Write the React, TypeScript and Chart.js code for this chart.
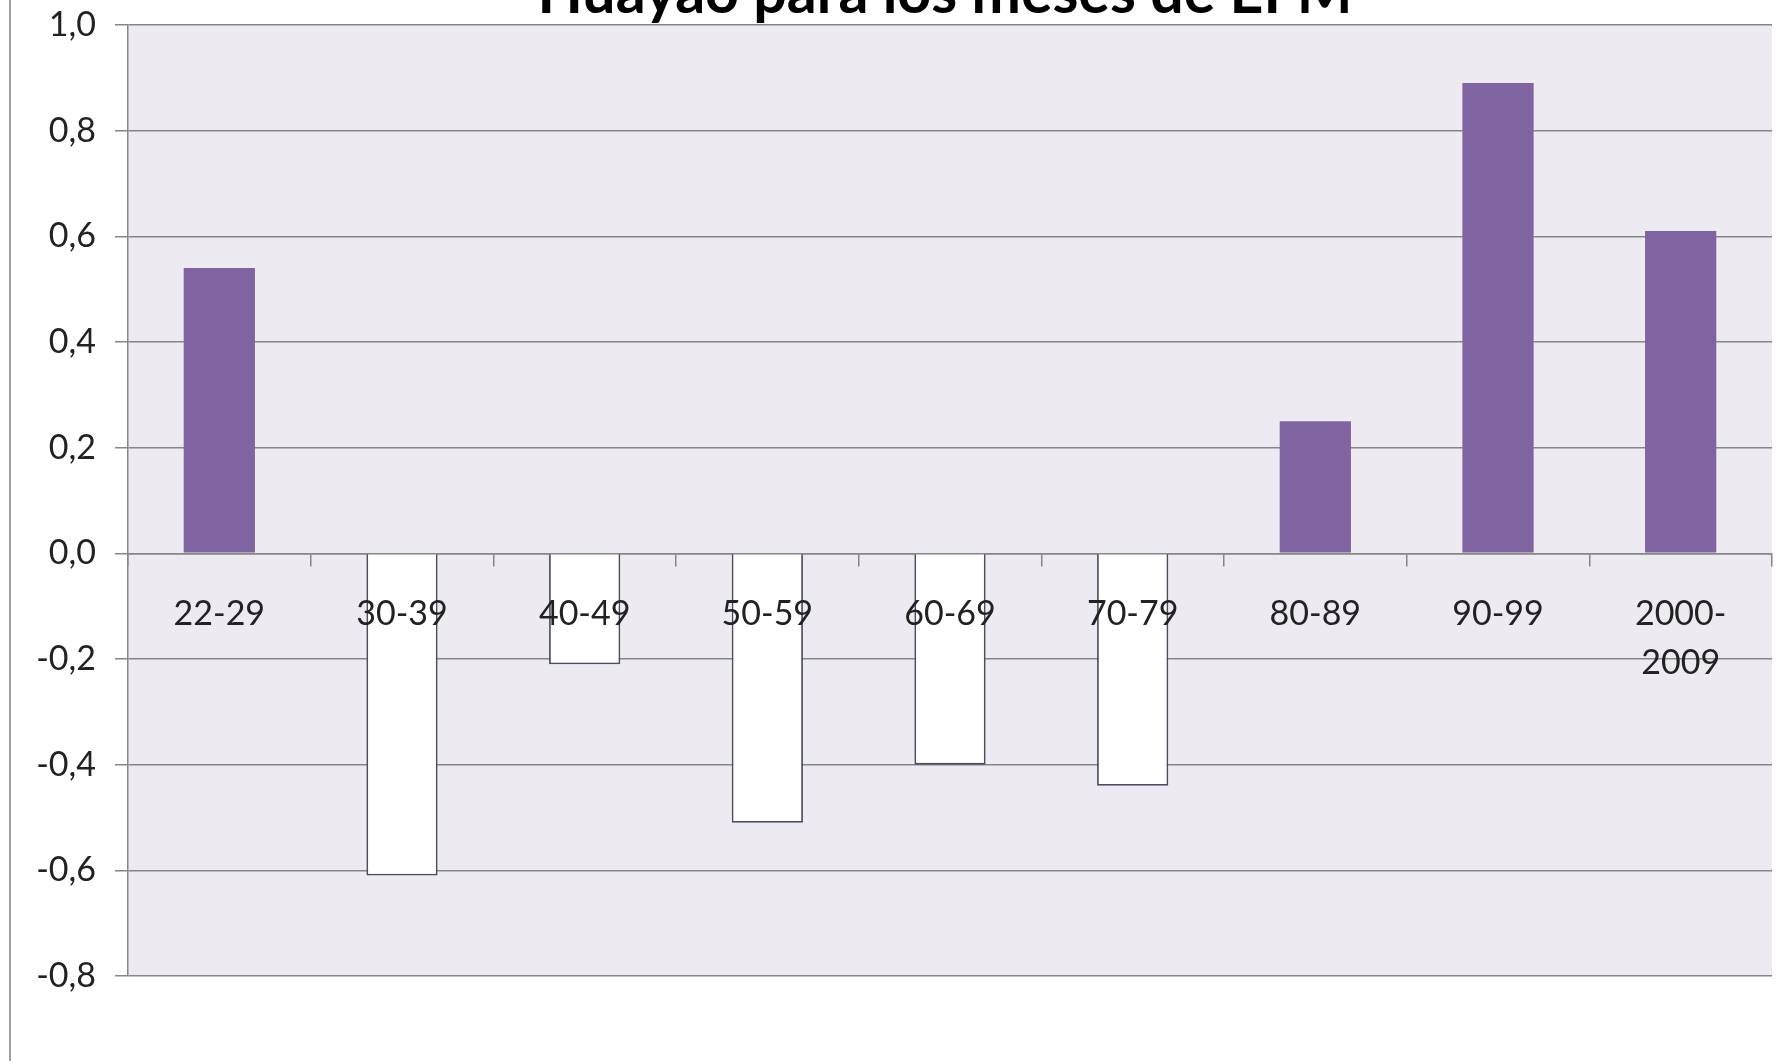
import React, { useEffect, useRef } from "react";
import { Chart, registerables } from "chart.js";

Chart.register(...registerables);

const chartTitle = "Huayao para los meses de EFM";
const categories: (string | string[])[] = [
  "22-29",
  "30-39",
  "40-49",
  "50-59",
  "60-69",
  "70-79",
  "80-89",
  "90-99",
  ["2000-", "2009"],
];
const seriesValues = [0.54, -0.61, -0.21, -0.51, -0.4, -0.44, 0.25, 0.89, 0.61];
const yTickValues = [-0.8, -0.6, -0.4, -0.2, 0, 0.2, 0.4, 0.6, 0.8, 1.0];

const POS_COLOR = "#8064A2";
const NEG_FILL = "#FFFFFF";
const NEG_BORDER = "#4d4d5e";
const GRID = "#868686";
const PLOT_BG = "rgb(237,234,241)";
const TEXT = "#222222";

export default function App() {
  const canvasRef = useRef<HTMLCanvasElement | null>(null);

  useEffect(() => {
    const canvas = canvasRef.current;
    if (!canvas) return;

    const decorPlugin = {
      id: "decor",
      beforeDraw(chart: any) {
        const { ctx, chartArea } = chart;
        ctx.save();
        ctx.fillStyle = "#ffffff";
        ctx.fillRect(0, 0, chart.width, chart.height);
        ctx.fillStyle = PLOT_BG;
        ctx.fillRect(
          chartArea.left,
          chartArea.top,
          chartArea.right - chartArea.left,
          chartArea.bottom - chartArea.top
        );
        ctx.restore();
      },
      afterDraw(chart: any) {
        const { ctx } = chart;
        ctx.save();
        ctx.strokeStyle = "#a0a0a0";
        ctx.lineWidth = 2;
        ctx.beginPath();
        ctx.moveTo(10, 0);
        ctx.lineTo(10, chart.height);
        ctx.stroke();
        ctx.fillStyle = "#000000";
        ctx.font = "bold 59px Lato";
        ctx.textAlign = "center";
        ctx.textBaseline = "alphabetic";
        ctx.fillText(chartTitle, 945, 13);
        ctx.restore();
      },
    };

    const chart = new Chart(canvas, {
      type: "bar",
      data: {
        labels: categories as any,
        datasets: [
          {
            label: "EFM",
            data: seriesValues,
            backgroundColor: seriesValues.map((v) => (v < 0 ? NEG_FILL : POS_COLOR)),
            borderColor: seriesValues.map((v) => (v < 0 ? NEG_BORDER : POS_COLOR)),
            borderWidth: seriesValues.map((v) => (v < 0 ? 1.8 : 0)),
            barPercentage: 0.39,
            categoryPercentage: 1,
          },
        ],
      },
      options: {
        animation: false,
        responsive: false,
        maintainAspectRatio: false,
        layout: { padding: { top: 25, bottom: 85, right: 17, left: 0 } },
        plugins: {
          legend: { display: false },
          title: { display: false },
          tooltip: { enabled: false },
        },
        scales: {
          x: {
            type: "category",
            position: { y: 0 } as any,
            offset: true,
            grid: {
              offset: true,
              drawOnChartArea: false,
              drawTicks: true,
              tickLength: 12,
              color: GRID,
              lineWidth: 1.5,
              z: 1,
            },
            border: { display: true, color: GRID, width: 1.5, z: 1 },
            ticks: {
              color: TEXT,
              font: { family: "Lato", size: 34, lineHeight: 1.45 },
              padding: 24,
              maxRotation: 0,
              autoSkip: false,
              z: 1,
            },
          },
          y: {
            min: -0.8,
            max: 1.0,
            afterFit: (scale: any) => {
              scale.width = 128;
              scale.paddingTop = 0;
              scale.paddingBottom = 0;
            },
            afterBuildTicks: (scale: any) => {
              scale.ticks = yTickValues.map((v) => ({ value: v }));
            },
            grid: {
              color: GRID,
              lineWidth: 1.5,
              drawTicks: true,
              tickLength: 13,
            },
            border: { display: true, color: GRID, width: 1.5 },
            ticks: {
              color: TEXT,
              font: { family: "Lato", size: 34 },
              padding: 19,
              callback: (v: any) => Number(v).toFixed(1).replace(".", ","),
            },
          },
        },
      },
      plugins: [decorPlugin],
    });

    return () => {
      chart.destroy();
    };
  }, []);

  return (
    <div style={{ position: "fixed", left: 0, top: 0, width: 1789, height: 1061, background: "#fff" }}>
      <canvas ref={canvasRef} width={1789} height={1061} style={{ width: 1789, height: 1061, display: "block" }} />
    </div>
  );
}
